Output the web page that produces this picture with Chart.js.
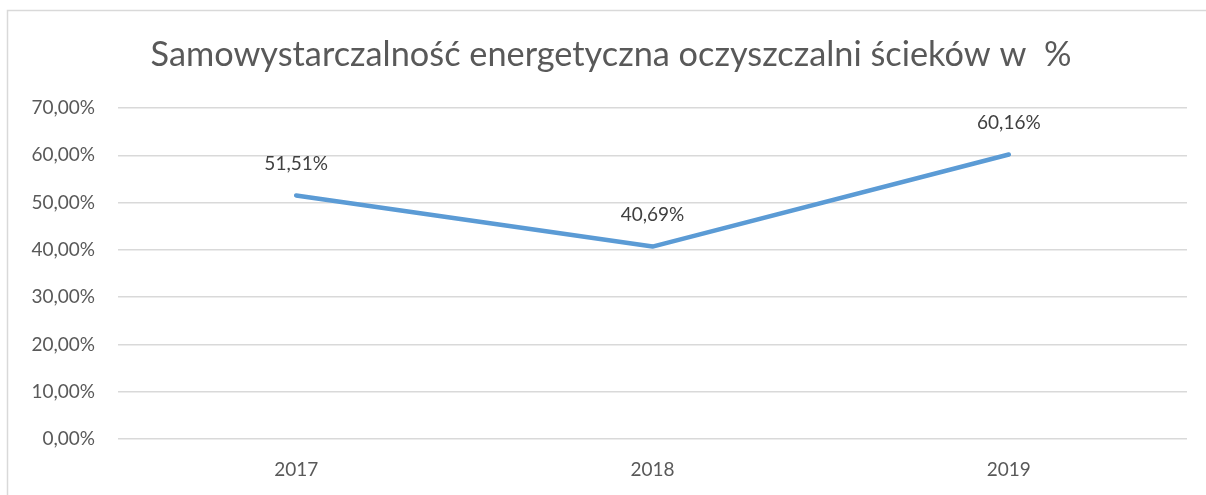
<!DOCTYPE html>
<html>
<head>
<meta charset="utf-8">
<script src="https://cdn.jsdelivr.net/npm/chart.js@4"></script>
<style>
  html, body { margin: 0; padding: 0; background: #fff; }
  #wrap { width: 1206px; height: 495px; position: relative; }
</style>
</head>
<body>
<div id="wrap"><canvas id="LineChart" width="1206" height="495"></canvas></div>
<script>
var titleText = 'Samowystarczalność energetyczna oczyszczalni ścieków w  %';
var years = ['2017', '2018', '2019'];
var selfSufficiency = [51.51, 40.69, 60.16];
var yTicks = [0, 10, 20, 30, 40, 50, 60, 70];

var FONT = 'Lato, "Open Sans", sans-serif';

function pct(v) {
    return v.toFixed(2).replace('.', ',') + '%';
}

// frame, title and value labels
var decorations = {
    id: 'decorations',
    beforeDraw: function (chart) {
        var c = chart.ctx;
        c.save();
        c.strokeStyle = '#d9d9d9';
        c.lineWidth = 1.5;
        c.strokeRect(7.5, 10.5, 1210, 500);
        c.fillStyle = '#595959';
        c.font = '34.3px ' + FONT;
        c.textAlign = 'center';
        c.textBaseline = 'middle';
        c.fillText(titleText, 611, 55);
        c.restore();
    },
    afterDatasetsDraw: function (chart) {
        var c = chart.ctx;
        var meta = chart.getDatasetMeta(0);
        c.save();
        c.fillStyle = '#404040';
        c.font = '19px ' + FONT;
        c.textAlign = 'center';
        c.textBaseline = 'middle';
        meta.data.forEach(function (pt, i) {
            c.fillText(pct(selfSufficiency[i]), pt.x, pt.y - 32);
        });
        c.restore();
    }
};

var data = {
    labels: years,
    datasets: [
        {
            label: titleText,
            data: selfSufficiency,
            borderColor: '#5b9bd5',
            backgroundColor: '#5b9bd5',
            borderWidth: 4.5,
            fill: false,
            tension: 0,
            pointRadius: 0,
            borderCapStyle: 'round',
            borderJoinStyle: 'round'
        }
    ]
};

var options = {
    responsive: false,
    animation: false,
    layout: { padding: { left: 0, right: 19, top: 108, bottom: 0 } },
    plugins: {
        title: { display: false },
        legend: { display: false },
        tooltip: { enabled: false }
    },
    scales: {
        x: {
            offset: true,
            grid: { display: false, drawTicks: false },
            border: { display: false },
            ticks: { color: '#595959', font: { family: FONT, size: 19 }, padding: 19 },
            afterFit: function (s) { s.height = 56; }
        },
        y: {
            min: 0,
            max: 70,
            afterBuildTicks: function (s) {
                s.ticks = yTicks.map(function (v) { return { value: v }; });
            },
            grid: { color: '#d9d9d9', lineWidth: 1.5, drawTicks: false },
            border: { display: false },
            ticks: {
                color: '#595959',
                font: { family: FONT, size: 19 },
                padding: 23,
                callback: function (v) { return pct(v); }
            },
            afterFit: function (s) { s.width = 118; }
        }
    }
};

var chart = new Chart(document.getElementById('LineChart'), {
    type: 'line',
    data: data,
    options: options,
    plugins: [decorations]
});
</script>
</body>
</html>
